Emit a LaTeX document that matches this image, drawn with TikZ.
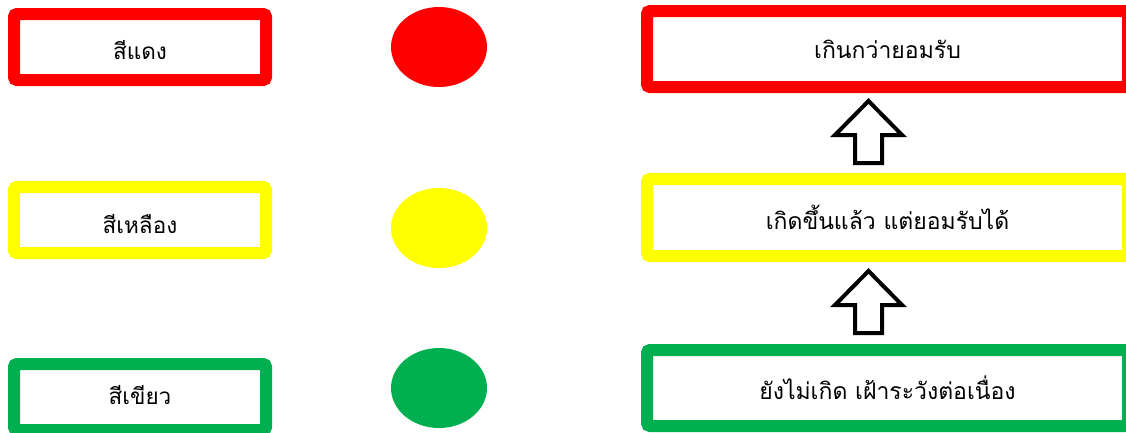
\documentclass[tikz,border=0pt]{standalone}
\usepackage{fontspec}
\newfontfamily\thaifont[Script=Thai]{Loma}
\usetikzlibrary{calc}
\usepackage{xcolor}
\definecolor{levelred}{HTML}{FF0000}
\definecolor{levelyellow}{HTML}{FFFF00}
\definecolor{levelgreen}{HTML}{00B050}

\begin{document}
\begin{tikzpicture}[x=1pt,y=-1pt,
  colbox/.style={draw=#1,line width=12pt,rounded corners=3pt,fill=white,
    minimum width=252pt,minimum height=66pt,inner sep=0pt,
    font=\thaifont\fontsize{22.5}{26}\selectfont},
  lvlbox/.style={draw=#1,line width=12pt,rounded corners=3pt,fill=white,
    minimum width=481pt,minimum height=76pt,inner sep=0pt,
    font=\thaifont\fontsize{23}{26}\selectfont}]
  \useasboundingbox (0,0) rectangle (1126,432);

  % Colour names
  \node[colbox=levelred] (redC) at (140,47) {\raisebox{-3pt}[\height][\depth]{สีแดง}};
  \node[colbox=levelyellow] (yellowC) at (140,220) {\raisebox{-4pt}[\height][\depth]{สีเหลือง}};
  \node[colbox=levelgreen] (greenC) at (140,397) {\raisebox{2pt}[\height][\depth]{สีเขียว}};

  % Signal lamps
  \fill[levelred] (439,47) ellipse (48 and 40);
  \fill[levelyellow] (439,228) ellipse (48 and 40);
  \fill[levelgreen] (439,388) ellipse (48 and 40);

  % Risk levels
  \node[lvlbox=levelred] (highR) at (887.5,49) {เกินกว่ายอมรับ};
  \node[lvlbox=levelyellow,minimum height=77pt] (midR) at (887.5,217.5) {เกิดขึ้นแล้ว แต่ยอมรับได้};
  \node[lvlbox=levelgreen] (lowR) at (887.5,388) {ยังไม่เกิด เฝ้าระวังต่อเนื่อง};

  % Block arrows between levels
  \coordinate (up1) at ($(midR.north)!0.5!(highR.south)+(-19,0)$);
  \coordinate (up2) at ($(lowR.north)!0.5!(midR.south)+(-19,0)$);
  \foreach \c in {up1,up2}
    \draw[line width=4pt,fill=white,line join=miter]
      ($(\c)+(0,-32)$) -- ++(33.5,34) -- ++(-20,0) -- ++(0,28)
      -- ++(-27,0) -- ++(0,-28) -- ++(-20,0) -- cycle;
\end{tikzpicture}
\end{document}
